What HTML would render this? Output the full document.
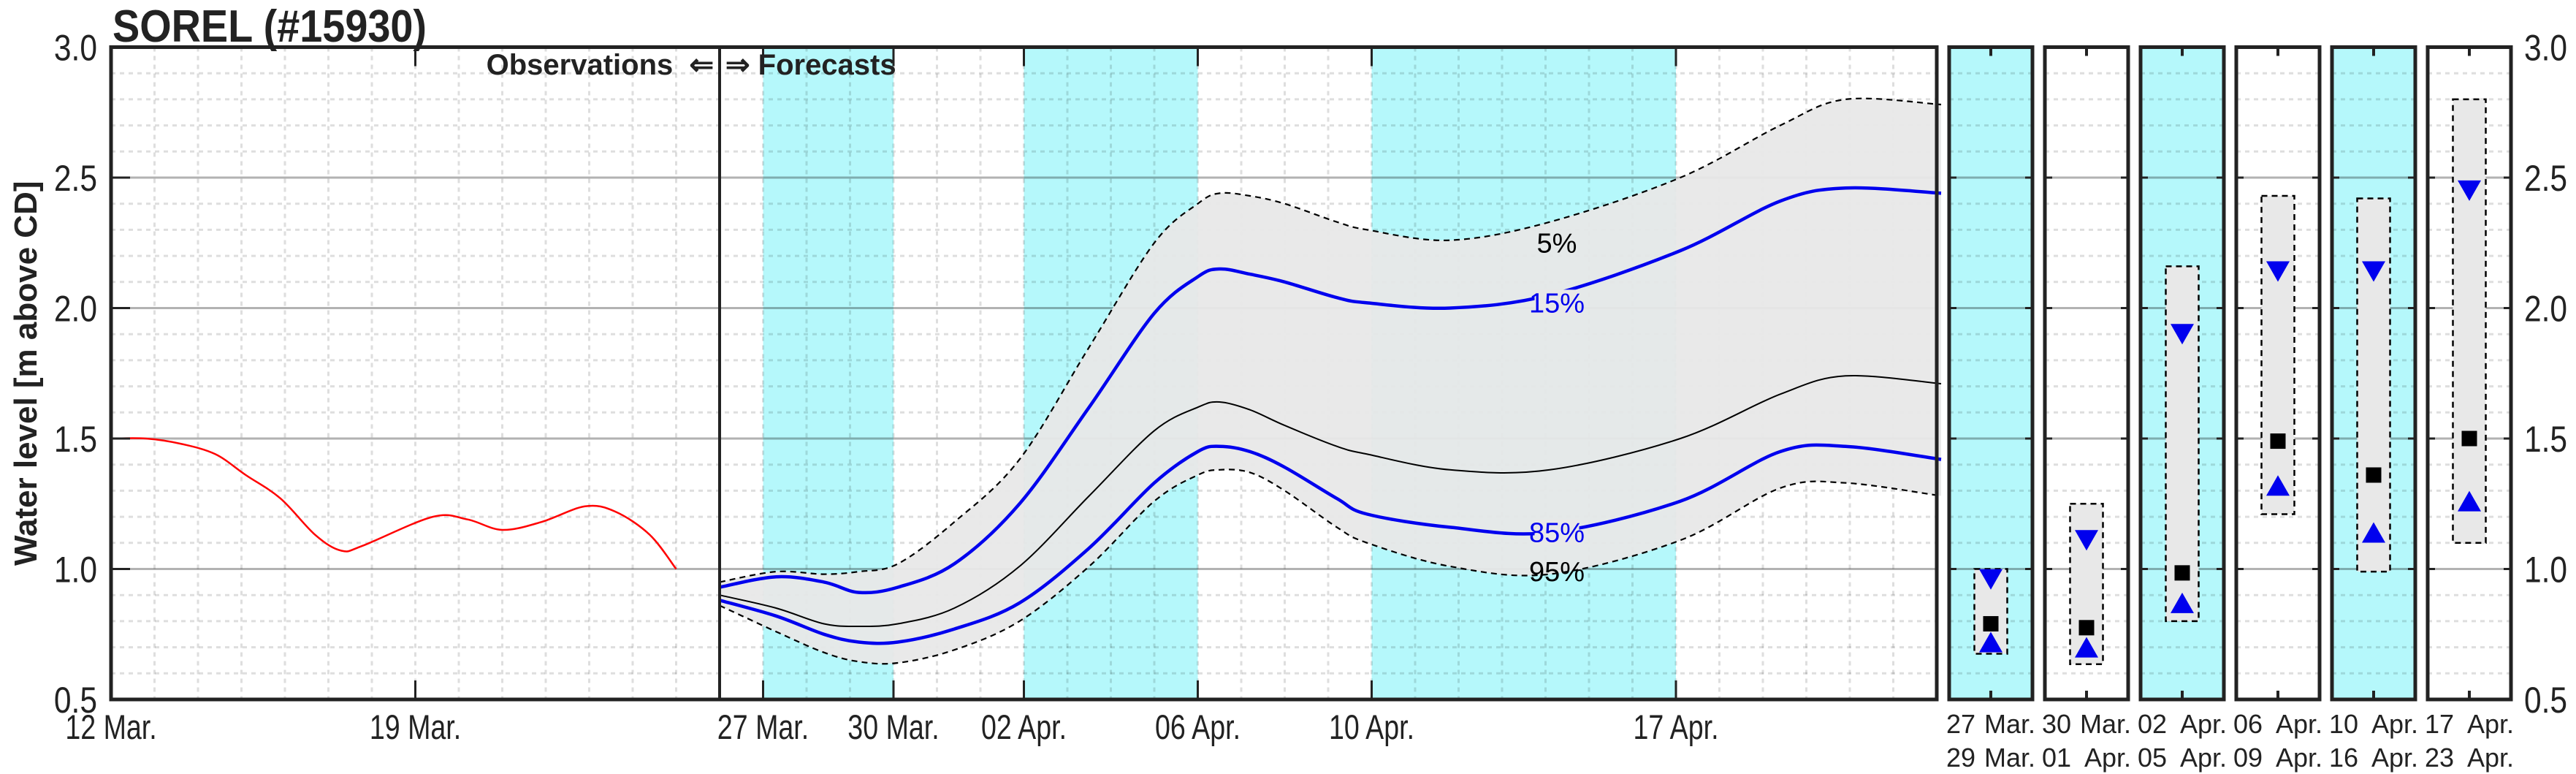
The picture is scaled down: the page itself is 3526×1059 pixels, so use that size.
<!DOCTYPE html>
<html><head><meta charset="utf-8">
<style>
html,body{margin:0;padding:0;background:#fff;}
svg{display:block;}
text{font-family:"Liberation Sans",sans-serif;fill:#222;}
</style></head>
<body>
<svg id="chart" width="3526" height="1059" viewBox="0 0 3526 1059" xmlns="http://www.w3.org/2000/svg">
<g id="root"></g>
</svg>
<script>
// ---- data ----
const obsDays = [0, 0.8, 1.6, 2.4, 3.1, 3.9, 4.7, 5.3, 5.8, 7.4, 8.2, 9.0, 9.9, 10.9, 11.6, 12.4, 13.0];
const obsLevel = [1.50, 1.50, 1.48, 1.44, 1.36, 1.27, 1.13, 1.07, 1.09, 1.20, 1.19, 1.15, 1.18, 1.24, 1.22, 1.13, 1.00];
const fcDays = [14.0, 15.3, 16.4, 17.2, 18.1, 19.4, 20.9, 22.5, 24.0, 25.0, 25.5, 26.2, 27.0, 28.2, 28.9, 30.8, 33.1, 36.1, 38.4, 39.9, 42.1];
const q05 = [0.95, 0.99, 0.98, 0.99, 1.02, 1.18, 1.42, 1.85, 2.25, 2.40, 2.44, 2.43, 2.40, 2.33, 2.30, 2.26, 2.33, 2.50, 2.70, 2.80, 2.78];
const q15 = [0.93, 0.97, 0.95, 0.91, 0.93, 1.02, 1.25, 1.62, 1.98, 2.12, 2.15, 2.13, 2.10, 2.04, 2.02, 2.00, 2.05, 2.22, 2.41, 2.46, 2.44];
const q50 = [0.90, 0.85, 0.79, 0.78, 0.79, 0.85, 1.01, 1.28, 1.53, 1.62, 1.64, 1.61, 1.55, 1.47, 1.44, 1.38, 1.38, 1.50, 1.67, 1.74, 1.71];
const q85 = [0.88, 0.82, 0.75, 0.72, 0.72, 0.77, 0.87, 1.08, 1.33, 1.45, 1.47, 1.45, 1.39, 1.27, 1.21, 1.16, 1.14, 1.26, 1.45, 1.47, 1.42];
const q95 = [0.86, 0.76, 0.68, 0.645, 0.64, 0.69, 0.80, 1.01, 1.26, 1.36, 1.38, 1.37, 1.30, 1.16, 1.10, 1.01, 0.98, 1.11, 1.31, 1.33, 1.28];
const bandStart = [15, 21, 29];
const bandEnd = [18, 25, 36];
const xTickDays = [0, 7, 15, 18, 21, 25, 29, 36];
const xTickLabels = ["12 Mar.", "19 Mar.", "27 Mar.", "30 Mar.", "02 Apr.", "06 Apr.", "10 Apr.", "17 Apr."];
const yTicks = [0.5, 1.0, 1.5, 2.0, 2.5, 3.0];
const yTickLabels = ["0.5", "1.0", "1.5", "2.0", "2.5", "3.0"];
// period panels
const pDay1 = ["27", "30", "02", "06", "10", "17"];
const pMon1 = ["Mar.", "Mar.", "Apr.", "Apr.", "Apr.", "Apr."];
const pDay2 = ["29", "01", "05", "09", "16", "23"];
const pMon2 = ["Mar.", "Apr.", "Apr.", "Apr.", "Apr.", "Apr."];
const pShaded = [true, false, true, false, true, false];
const pLow = [0.675, 0.635, 0.80, 1.21, 0.99, 1.10];
const pHigh = [1.00, 1.25, 2.16, 2.43, 2.42, 2.80];
const pQ15 = [0.96, 1.11, 1.90, 2.14, 2.14, 2.45];
const pMed = [0.79, 0.775, 0.985, 1.49, 1.36, 1.50];
const pQ85 = [0.72, 0.70, 0.87, 1.32, 1.14, 1.26];

// ---- geometry ----
const NS = "http://www.w3.org/2000/svg";
const root = document.getElementById('root');
const X0 = 152, DAYW = 59.5, XEND = 2651, YTOP = 64.5, YBOT = 957;
const yMin = 0.5, yMax = 3.0;
const xS = d => X0 + d * DAYW;
const yS = v => YBOT - (v - yMin) / (yMax - yMin) * (YBOT - YTOP);
const CYAN = "#b5f8fb";

function el(tag, attrs, parent) {
  const e = document.createElementNS(NS, tag);
  for (const k in attrs) e.setAttribute(k, attrs[k]);
  (parent || root).appendChild(e);
  return e;
}
function smooth(xs, ys) {
  const p = xs.map((x, i) => [xS(x), yS(ys[i])]);
  let d = "M" + p[0][0].toFixed(1) + "," + p[0][1].toFixed(1);
  for (let i = 0; i < p.length - 1; i++) {
    const p0 = p[Math.max(0, i - 1)], p1 = p[i], p2 = p[i + 1], p3 = p[Math.min(p.length - 1, i + 2)];
    const c1 = [p1[0] + (p2[0] - p0[0]) / 6, p1[1] + (p2[1] - p0[1]) / 6];
    const c2 = [p2[0] - (p3[0] - p1[0]) / 6, p2[1] - (p3[1] - p1[1]) / 6];
    d += "C" + c1[0].toFixed(1) + "," + c1[1].toFixed(1) + " " + c2[0].toFixed(1) + "," + c2[1].toFixed(1) + " " + p2[0].toFixed(1) + "," + p2[1].toFixed(1);
  }
  return d;
}
function txt(s, attrs) { const t = el('text', attrs); t.textContent = s; return t; }

// ---- main panel ----
const mainG = el('g', {});


for (let i = 0; i < bandStart.length; i++) {
  const r = el('rect', { x: xS(bandStart[i]), y: YTOP, width: xS(bandEnd[i]) - xS(bandStart[i]), height: YBOT - YTOP, fill: CYAN }, mainG);
  
  
}
// grid
const grid = el('g', { stroke: "#000", "stroke-opacity": 0.13, "stroke-width": 3, "stroke-dasharray": "6,6" }, mainG);


for (let d = 1; xS(d) < XEND - 2; d++) el('line', { x1: xS(d), x2: xS(d), y1: YTOP, y2: YBOT }, grid);
for (let v = 0.6; v < 2.999; v += 0.1) {
  const major = Math.abs(v * 2 - Math.round(v * 2)) < 1e-6;
  el('line', { x1: X0, x2: XEND, y1: yS(v), y2: yS(v), "stroke-opacity": major ? 0.3 : 0.13, "stroke-dasharray": major ? "none" : "6,6" }, grid);
}
// band fill
const fillD = smooth(fcDays, q05) + "L" + smooth(fcDays.slice().reverse(), q95.slice().reverse()).slice(1) + "Z";
const band = el('path', { d: fillD, fill: "#e8e8e8", "fill-opacity": 0.95 }, mainG);


const series = [
  [q05, "#000", 2.2, "8,6", 'line-5pct'],
  [q95, "#000", 2.2, "8,6", 'line-95pct'],
  [q50, "#000", 2, "none", 'line-median'],
  [q15, "#0000ee", 4.5, "none", 'line-15pct'],
  [q85, "#0000ee", 4.5, "none", 'line-85pct']
];
series.forEach(s => {
  const p = el('path', { d: smooth(fcDays, s[0]), fill: "none", stroke: s[1], "stroke-width": s[2], "stroke-dasharray": s[3] }, mainG);
  
  
});
const obs = el('path', { d: smooth(obsDays, obsLevel), fill: "none", stroke: "#f00", "stroke-width": 2.5 }, mainG);



// percentile labels
const lblX = 2131;
[["5%", 2.25, "#000"], ["15%", 2.02, "#0000ee"], ["85%", 1.14, "#0000ee"], ["95%", 0.99, "#000"]].forEach(l => {
  const w = l[0].length * 17 + 10;
  el('rect', { x: lblX - w / 2, y: yS(l[1]) - 18, width: w, height: 36, fill: l[0] === "5%" || l[0] === "95%" ? "none" : "#e8e8e8" }, mainG);
  const t = txt(l[0], { x: lblX, y: yS(l[1]) + 13, "font-size": 38, "text-anchor": "middle", style: "fill:" + l[2] });
  
  
});

// divider
el('line', { x1: xS(14), x2: xS(14), y1: YTOP, y2: YBOT, stroke: "#222", "stroke-width": 4 }, mainG);
// ticks
xTickDays.forEach((d, i) => {
  if (d > 0) {
    el('line', { x1: xS(d), x2: xS(d), y1: YBOT, y2: YBOT - 26, stroke: "#222", "stroke-width": 3 });
    el('line', { x1: xS(d), x2: xS(d), y1: YTOP, y2: YTOP + 26, stroke: "#222", "stroke-width": 3 });
  }
  const t = txt(xTickLabels[i], { x: xS(d), y: 1011, "font-size": 47, "text-anchor": "middle", transform: "translate(" + xS(d) + ",0) scale(0.8,1) translate(" + (-xS(d)) + ",0)" });
  
  
});
yTicks.forEach((v, i) => {
  el('line', { x1: X0, x2: X0 + 26, y1: yS(v), y2: yS(v), stroke: "#222", "stroke-width": 3 });
  const t = txt(yTickLabels[i], { x: 133, y: yS(v) + 18, "font-size": 50, "text-anchor": "end", transform: "translate(133,0) scale(0.85,1) translate(-133,0)" });
  
  
  const t2 = txt(yTickLabels[i], { x: 3455, y: yS(v) + 18, "font-size": 50, "text-anchor": "start", transform: "translate(3455,0) scale(0.85,1) translate(-3455,0)" });
  
  
});
const frame = el('rect', { x: X0, y: YTOP, width: XEND - X0, height: YBOT - YTOP, fill: "none", stroke: "#222", "stroke-width": 5 });



const obsT = txt("Observations  \u21D0", { x: xS(14) - 8, y: 102, "font-size": 40, "font-weight": "bold", "text-anchor": "end", style: "white-space:pre" });


const fcT = txt("\u21D2 Forecasts", { x: xS(14) + 8, y: 102, "font-size": 40, "font-weight": "bold" });



const title = txt("SOREL (#15930)", { x: 154, y: 57, "font-size": 62, "font-weight": "bold", transform: "translate(154,0) scale(0.9,1) translate(-154,0)" });


const yt = txt("Water level [m above CD]", { x: 0, y: 0, "font-size": 44, "font-weight": "bold", "text-anchor": "middle", transform: "translate(50," + ((YTOP + YBOT) / 2) + ") rotate(-90)" });



// ---- period panels ----
const PX0 = 2668, PW = 114, PPITCH = 131, BOXW = 45;
for (let i = 0; i < pLow.length; i++) {
  const g = el('g', {});
  
  
  const left = PX0 + i * PPITCH, cx = left + PW / 2;
  el('rect', { x: left, y: YTOP, width: PW, height: YBOT - YTOP, fill: pShaded[i] ? CYAN : "#fff" }, g);
  for (let v = 0.6; v < 2.999; v += 0.1) {
    const major = Math.abs(v * 2 - Math.round(v * 2)) < 1e-6;
    el('line', { x1: left, x2: left + PW, y1: yS(v), y2: yS(v), stroke: "#000", "stroke-opacity": major ? 0.3 : 0.13, "stroke-width": 3, "stroke-dasharray": major ? "none" : "6,6" }, g);
    if (major) {
      el('line', { x1: left, x2: left + 10, y1: yS(v), y2: yS(v), stroke: "#222", "stroke-width": 3 }, g);
      el('line', { x1: left + PW - 10, x2: left + PW, y1: yS(v), y2: yS(v), stroke: "#222", "stroke-width": 3 }, g);
    }
  }
  const box = el('rect', { x: cx - BOXW / 2, y: yS(pHigh[i]), width: BOXW, height: yS(pLow[i]) - yS(pHigh[i]), fill: "#e8e8e8", stroke: "#000", "stroke-width": 2.5, "stroke-dasharray": "8,6" }, g);
  
  
  const yd = yS(pQ15[i]);
  const td = el('polygon', { points: (cx - 16) + "," + (yd - 14) + " " + (cx + 16) + "," + (yd - 14) + " " + cx + "," + (yd + 14), fill: "#0000ee" }, g);
  
  
  const yu = yS(pQ85[i]);
  const tu = el('polygon', { points: (cx - 16) + "," + (yu + 14) + " " + (cx + 16) + "," + (yu + 14) + " " + cx + "," + (yu - 14), fill: "#0000ee" }, g);
  
  
  const sq = el('rect', { x: cx - 10.5, y: yS(pMed[i]) - 10.5, width: 21, height: 21, fill: "#000" }, g);
  
  
  el('line', { x1: cx, x2: cx, y1: YTOP, y2: YTOP + 12, stroke: "#222", "stroke-width": 4 }, g);
  el('line', { x1: cx, x2: cx, y1: YBOT, y2: YBOT - 12, stroke: "#222", "stroke-width": 4 }, g);
  el('rect', { x: left, y: YTOP, width: PW, height: YBOT - YTOP, fill: "none", stroke: "#222", "stroke-width": 5 }, g);
  [[pDay1[i], pMon1[i], 1003], [pDay2[i], pMon2[i], 1049]].forEach(r => {
    const a = txt(r[0], { x: left - 4, y: r[2], "font-size": 36 });
    
    
    const b = txt(r[1], { x: left + PW + 4, y: r[2], "font-size": 36, "text-anchor": "end" });
    
    
  });
}
</script>
</body></html>
